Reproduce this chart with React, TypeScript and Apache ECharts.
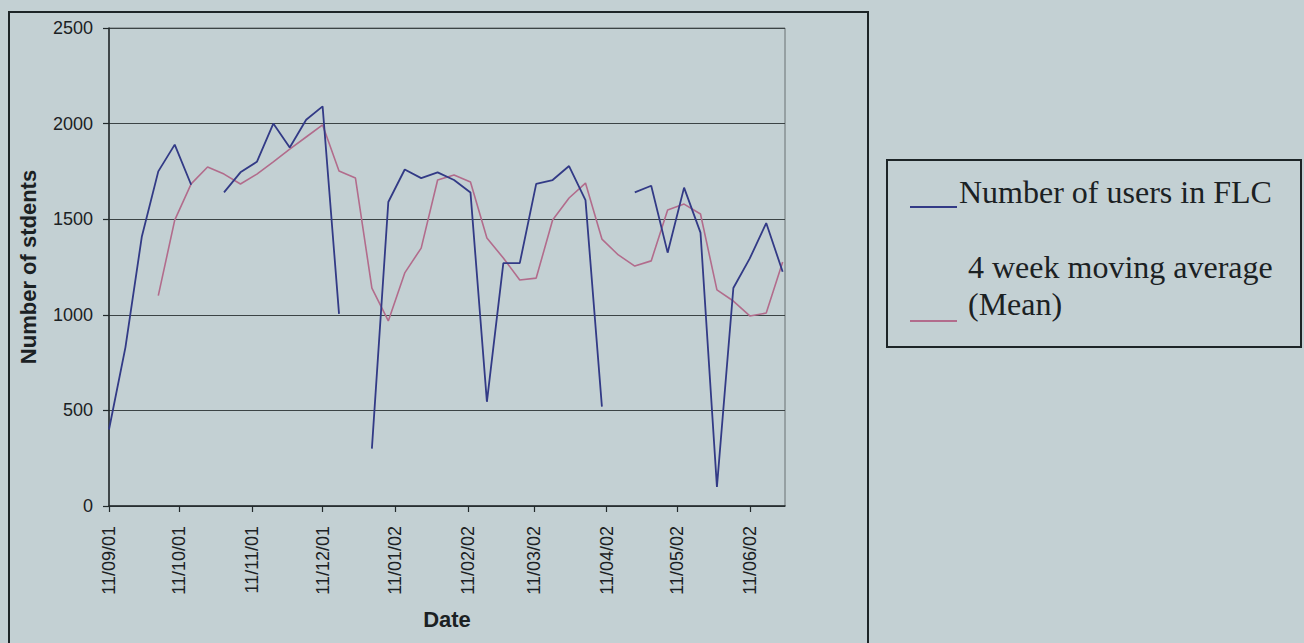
import React, { useEffect, useRef } from "react";
import * as echarts from "echarts";

const weekDates: string[] = [
  "2001-09-11", "2001-09-18", "2001-09-25", "2001-10-02", "2001-10-09", "2001-10-16", "2001-10-23", "2001-10-30",
  "2001-11-06", "2001-11-13", "2001-11-20", "2001-11-27", "2001-12-04", "2001-12-11", "2001-12-18", "2001-12-25",
  "2002-01-01", "2002-01-08", "2002-01-15", "2002-01-22", "2002-01-29", "2002-02-05", "2002-02-12", "2002-02-19",
  "2002-02-26", "2002-03-05", "2002-03-12", "2002-03-19", "2002-03-26", "2002-04-02", "2002-04-09", "2002-04-16",
  "2002-04-23", "2002-04-30", "2002-05-07", "2002-05-14", "2002-05-21", "2002-05-28", "2002-06-04", "2002-06-11",
  "2002-06-18", "2002-06-25",
];

const users: (number | null)[] = [
  400, 830, 1410, 1750, 1890, 1680, null, 1640,
  1745, 1800, 2000, 1875, 2020, 2090, 1005, null,
  300, 1590, 1760, 1715, 1745, 1705, 1640, 545,
  1270, 1270, 1685, 1705, 1778, 1600, 520, null,
  1640, 1675, 1325, 1665, 1430, 100, 1140, 1295,
  1480, 1225,
];

const movingAvg: (number | null)[] = [
  null, null, null, 1100, 1495, 1685, 1773, 1736,
  1684, 1736, 1800, 1867, 1930, 1993, 1752, 1715,
  1140, 968, 1219, 1349, 1705, 1731, 1695, 1402,
  1297, 1182, 1192, 1496, 1611, 1689, 1396, 1313,
  1255, 1282, 1548, 1579, 1527, 1130, 1072, 994,
  1009, 1276,
];

const tickDates: string[] = [
  "2001-09-11", "2001-10-11", "2001-11-11", "2001-12-11", "2002-01-11",
  "2002-02-11", "2002-03-11", "2002-04-11", "2002-05-11", "2002-06-11",
];
const tickLabels: string[] = [
  "11/09/01", "11/10/01", "11/11/01", "11/12/01", "11/01/02",
  "11/02/02", "11/03/02", "11/04/02", "11/05/02", "11/06/02",
];

const axisStart = "2001-09-11";
const axisEnd = "2002-06-26";

const seriesNames: string[] = ["Number of users in FLC", "4 week moving average", "(Mean)"];
const yAxisTitle = "Number of stdents";
const xAxisTitle = "Date";

const ts = (d: string) => {
  const [y, m, day] = d.split("-").map(Number);
  return Date.UTC(y, m - 1, day);
};
const dayOf = (d: string) => Math.round((ts(d) - ts(axisStart)) / 86400000);

const BG = "#c3d0d3";
const TEXT = "#1b2123";
const BLUE = "#323a86";
const PINK = "#b26c8c";

export default function App() {
  const ref = useRef<HTMLDivElement>(null);

  useEffect(() => {
    if (!ref.current) return;
    const chart = echarts.init(ref.current, undefined, { renderer: "svg" });
    const tickDays = tickDates.map(dayOf);
    const labelFor = (v: number) => {
      const i = tickDays.indexOf(Math.round(v));
      return i >= 0 ? tickLabels[i] : "";
    };
    const toData = (arr: (number | null)[]) =>
      weekDates.map((d, i) => [dayOf(d), arr[i] == null ? "-" : arr[i]]);

    chart.setOption({
      animation: false,
      backgroundColor: BG,
      grid: {
        left: 109,
        top: 28,
        width: 676,
        height: 478,
        show: true,
        borderColor: "#687173",
        borderWidth: 1,
        backgroundColor: "transparent",
      },
      xAxis: {
        type: "value",
        min: 0,
        max: dayOf(axisEnd),
        name: xAxisTitle,
        nameLocation: "middle",
        nameGap: 102,
        nameTextStyle: { fontFamily: "Liberation Sans", fontWeight: "bold", fontSize: 22, color: TEXT },
        splitLine: { show: false },
        axisLine: { show: true, onZero: false, lineStyle: { color: "#22292b", width: 1.5 } },
        axisTick: { show: true, length: 6, customValues: tickDays, lineStyle: { color: "#22292b", width: 1.2 } },
        axisLabel: {
          customValues: tickDays,
          rotate: 90,
          margin: 20,
          fontFamily: "Liberation Sans",
          fontSize: 18,
          color: TEXT,
          formatter: (v: number) => labelFor(v),
        },
      },
      yAxis: {
        type: "value",
        min: 0,
        max: 2500,
        interval: 500,
        name: yAxisTitle,
        nameLocation: "middle",
        nameRotate: 90,
        nameGap: 70,
        nameTextStyle: { fontFamily: "Liberation Sans", fontWeight: "bold", fontSize: 22, color: TEXT },
        axisLine: { show: true, onZero: false, lineStyle: { color: "#22292b", width: 1.5 } },
        axisTick: { show: true, length: 6, lineStyle: { color: "#22292b", width: 1.2 } },
        axisLabel: {
          margin: 16,
          fontFamily: "Liberation Sans",
          fontSize: 18,
          color: TEXT,
          formatter: (v: number) => String(v),
        },
        splitLine: { show: true, lineStyle: { color: "#3b4345", width: 1.2 } },
      },
      series: [
        {
          name: seriesNames[0],
          type: "line",
          data: toData(users),
          symbol: "none",
          connectNulls: false,
          lineStyle: { color: BLUE, width: 1.8 },
          itemStyle: { color: BLUE },
          z: 3,
        },
        {
          name: seriesNames[1] + " " + seriesNames[2],
          type: "line",
          data: toData(movingAvg),
          symbol: "none",
          connectNulls: false,
          lineStyle: { color: PINK, width: 1.6 },
          itemStyle: { color: PINK },
          z: 2,
        },
      ],
      graphic: [
        {
          type: "rect",
          shape: { x: 9, y: 12, width: 859, height: 660 },
          style: { fill: "none", stroke: "#1d2527", lineWidth: 2 },
          silent: true,
          z: 0,
        },
        {
          type: "rect",
          shape: { x: 887, y: 160, width: 414, height: 187 },
          style: { fill: "none", stroke: "#1d2527", lineWidth: 2 },
          silent: true,
        },
        {
          type: "line",
          shape: { x1: 910, y1: 207, x2: 957, y2: 207 },
          style: { stroke: BLUE, lineWidth: 2 },
        },
        {
          type: "line",
          shape: { x1: 910, y1: 321, x2: 957, y2: 321 },
          style: { stroke: PINK, lineWidth: 2 },
        },
        {
          type: "text",
          x: 959,
          y: 192,
          style: {
            text: seriesNames[0],
            font: '32px "Liberation Serif"',
            fill: TEXT,
            verticalAlign: "middle",
            align: "left",
          },
        },
        {
          type: "text",
          x: 968,
          y: 267,
          style: {
            text: seriesNames[1],
            font: '32px "Liberation Serif"',
            fill: TEXT,
            verticalAlign: "middle",
            align: "left",
          },
        },
        {
          type: "text",
          x: 968,
          y: 304,
          style: {
            text: seriesNames[2],
            font: '32px "Liberation Serif"',
            fill: TEXT,
            verticalAlign: "middle",
            align: "left",
          },
        },
      ],
    });
    return () => chart.dispose();
  }, []);

  return (
    <div
      ref={ref}
      style={{ position: "absolute", left: 0, top: 0, width: 1304, height: 643, background: BG }}
    />
  );
}
